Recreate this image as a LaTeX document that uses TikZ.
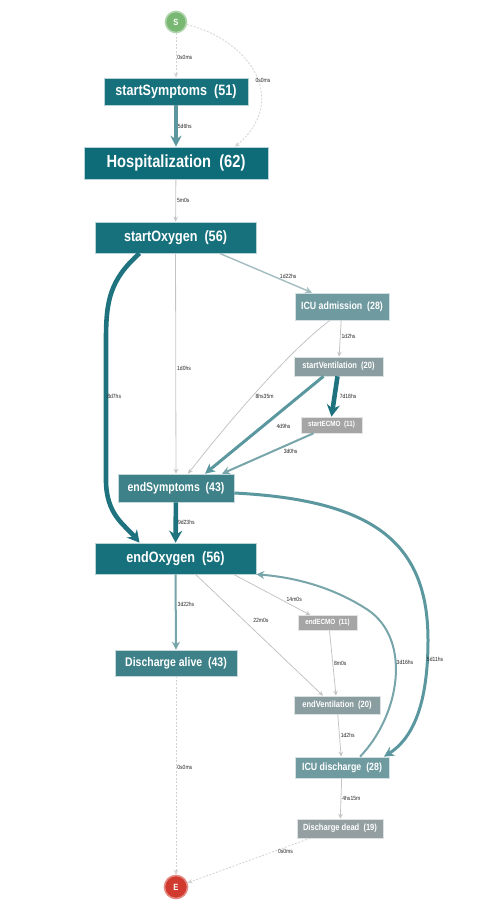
\documentclass[tikz,border=0pt]{standalone}
\usepackage{fontspec}
\usepackage{tikz}
\usetikzlibrary{arrows.meta,calc}
\newfontfamily\boxfont[FakeStretch=0.84]{Liberation Sans}
\definecolor{tealA}{HTML}{16717D}
\definecolor{tealH}{HTML}{0E6B78}
\definecolor{tealB}{HTML}{3E8189}
\definecolor{tealC}{HTML}{6E9AA0}
\definecolor{grayV}{HTML}{8A9DA0}
\definecolor{grayD}{HTML}{949FA1}
\definecolor{grayE}{HTML}{A5A5A5}
\definecolor{edgeK}{HTML}{1F737E}
\definecolor{edgeT}{HTML}{5A979E}
\definecolor{edgeM}{HTML}{77A5AA}
\definecolor{edgeL}{HTML}{A2BCBF}
\definecolor{edgeG}{HTML}{C4C4C4}
\definecolor{edgeD}{HTML}{D2D2D2}
\definecolor{startG}{HTML}{79B873}
\definecolor{startR}{HTML}{D13B2F}

\begin{document}
\begin{tikzpicture}[
x=1pt, y=-1pt,
act/.style={rectangle, text=white, inner sep=0pt, draw=white!70!#1, fill=#1, line width=0.6pt},
big/.style={font=\boxfont\bfseries\fontsize{15}{15}\selectfont},
mid/.style={font=\boxfont\bfseries\fontsize{12.5}{12.5}\selectfont},
sml/.style={font=\boxfont\bfseries\fontsize{10.5}{10.5}\selectfont},
tny/.style={font=\boxfont\bfseries\fontsize{9}{9}\selectfont},
ecm/.style={font=\boxfont\bfseries\fontsize{7.5}{7.5}\selectfont},
endpt/.style={circle, minimum size=21pt, inner sep=0pt, text=white, line width=1.6pt, font=\boxfont\bfseries\fontsize{9}{9}\selectfont},
lbl/.style={font=\boxfont\fontsize{6}{6}\selectfont, text=black!85, inner sep=1pt},
thinE/.style={draw=edgeG, line width=0.8pt, -{Stealth[length=5pt,width=4.5pt]}},
dashE/.style={draw=edgeD, line width=0.8pt, dashed, dash pattern=on 2pt off 1.5pt, -{Stealth[length=5pt,width=4.5pt]}},
w1/.style={draw=edgeL, line width=1.4pt, -{Stealth[length=7pt,width=7pt]}},
w2/.style={draw=edgeM, line width=2pt, -{Stealth[length=8pt,width=8pt]}},
w3/.style={draw=edgeT, line width=3pt, -{Stealth[length=10pt,width=10pt]}},
w4/.style={draw=edgeT, line width=3.8pt, -{Stealth[length=11pt,width=11pt]}},
w5/.style={draw=edgeK, line width=4.6pt, -{Stealth[length=12pt,width=13pt]}}
]
\useasboundingbox (0,0) rectangle (477,917);

% activities
\node[endpt, fill=startG, draw=startG!60!white] (S) at (176,22) {S};
\node[act=tealA, big, minimum width=144, minimum height=27] (sSym) at (176,91.5) {startSymptoms\ \ (51)};
\node[act=tealH, font=\boxfont\bfseries\fontsize{17.5}{17.5}\selectfont, minimum width=184, minimum height=32] (hosp) at (176,163) {Hospitalization\ \ (62)};
\node[act=tealA, big, minimum width=161, minimum height=31] (sOxy) at (175.5,237.5) {startOxygen\ \ (56)};
\node[act=tealC, sml, minimum width=94, minimum height=27] (icuA) at (342,306.5) {ICU admission\ \ (28)};
\node[act=grayV, tny, minimum width=89, minimum height=19] (sVent) at (338.5,366.5) {startVentilation\ \ (20)};
\node[act=grayE, ecm, minimum width=61, minimum height=16] (sEcmo) at (331.5,425) {startECMO\ \ (11)};
\node[act=tealB, mid, minimum width=116, minimum height=28] (eSym) at (176,488) {endSymptoms\ \ (43)};
\node[act=tealA, big, minimum width=161, minimum height=31] (eOxy) at (175.5,558.5) {endOxygen\ \ (56)};
\node[act=tealB, mid, minimum width=122, minimum height=26] (dAlive) at (176,663) {Discharge alive\ \ (43)};
\node[act=grayE, ecm, minimum width=59, minimum height=15] (eEcmo) at (327.5,623) {endECMO\ \ (11)};
\node[act=grayV, tny, minimum width=86, minimum height=18] (eVent) at (337,705) {endVentilation\ \ (20)};
\node[act=tealC, sml, minimum width=94, minimum height=21] (icuD) at (342,767.5) {ICU discharge\ \ (28)};
\node[act=grayD, tny, minimum width=86, minimum height=19] (dDead) at (340,828.5) {Discharge dead\ \ (19)};
\node[endpt, fill=startR, draw=startR!60!white, minimum size=23pt] (E) at (176,887) {E};

% flows
\draw[dashE] (S) -- node[lbl, right, pos=0.55] {0s0ms} (sSym);
\draw[dashE] (S) .. controls (250,40) and (290,100) .. node[lbl, right, pos=0.55, xshift=-4] {0s0ms} ([xshift=59]hosp.north);
\draw[w4] (sSym) -- node[lbl, right, xshift=-1] {5d6hs} (hosp);
\draw[thinE] (hosp) -- node[lbl, right] {5m0s} (sOxy);
\draw[w1] ([xshift=44]sOxy.south) -- node[lbl, above right, pos=0.7, xshift=-6, yshift=1] {1d22hs} ([xshift=-30]icuA.north);
\draw[thinE] (sOxy) -- node[lbl, right, pos=0.52] {1d0hs} (eSym);
\draw[w5] ([xshift=-36]sOxy.south) .. controls (110,280) and (106,300) .. (106,340) -- node[lbl, right, inner sep=0pt, xshift=-1, pos=0.4] {8d7hs} (106,480) .. controls (106,515) and (125,525) .. ([xshift=-36]eOxy.north);
\draw[thinE] (icuA) -- node[lbl, right, pos=0.45] {1d2hs} (sVent);
\draw[thinE] ([xshift=-12]icuA.south) .. controls (290,350) and (230,420) .. node[lbl, right, pos=0.55, xshift=2] {8hs35m} ([xshift=12]eSym.north);
\draw[w5] ([xshift=-1]sVent.south) -- node[lbl, right, xshift=2] {7d18hs} (sEcmo.north);
\draw[w3] ([xshift=-15]sVent.south) -- node[lbl, below right, pos=0.45, xshift=4, yshift=-2] {4d9hs} ([xshift=29]eSym.north);
\draw[w2] ([xshift=-18]sEcmo.south) -- node[lbl, below, pos=0.25, yshift=-4] {3d0hs} ([xshift=46]eSym.north);
\draw[w5] (eSym) -- node[lbl, right, xshift=-1] {9d23hs} (eOxy);
\draw[w3] ($(eSym.east)+(0,5)$) .. controls (370,500) and (428,540) .. (428,640) .. controls (428,710) and (410,740) .. node[lbl, right, inner sep=0pt, xshift=-2, pos=0.1] {5d11hs} ([xshift=42]icuD.north);
\draw[w2] (eOxy) -- node[lbl, right, pos=0.4] {3d22hs} (dAlive);
\draw[thinE] ([xshift=58]eOxy.south) -- node[lbl, above right, pos=0.75, xshift=-6, yshift=2] {14m0s} ([xshift=-17]eEcmo.north);
\draw[thinE] ([xshift=20]eOxy.south) -- node[lbl, right, pos=0.38, xshift=8] {22m0s} ([xshift=-14]eVent.north);
\draw[thinE] ([xshift=2]eEcmo.south) -- node[lbl, right] {8m0s} ([xshift=-1]eVent.north);
\draw[thinE] (eVent) -- node[lbl, right] {1d2hs} (icuD);
\draw[w2] ([xshift=18]icuD.north) .. controls (400,715) and (412,640) .. node[lbl, right, pos=0.6, xshift=-1] {3d16hs} (368,610) .. controls (330,585) and (290,577) .. (eOxy.south east);
\draw[thinE] (icuD) -- node[lbl, right] {4hs15m} (dDead);
\draw[dashE] (dAlive) -- node[lbl, right, pos=0.46] {0s0ms} (E);
\draw[dashE] ([xshift=-30]dDead.south) -- node[lbl, below, pos=0.2, yshift=-1] {0s0ms} (E);
\end{tikzpicture}
\end{document}
